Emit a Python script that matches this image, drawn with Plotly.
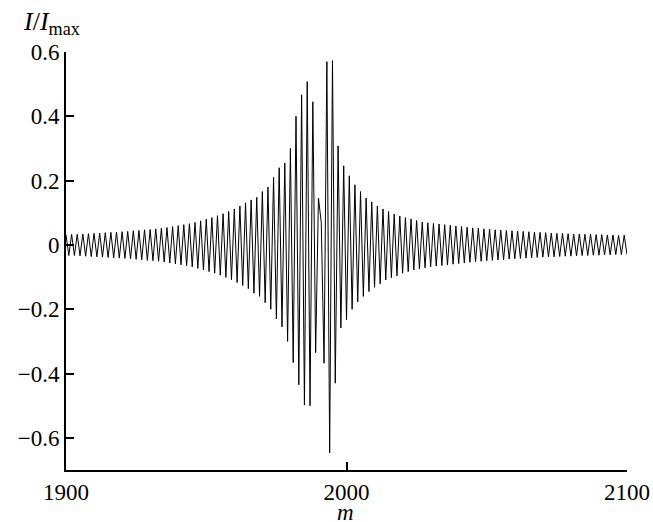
import plotly.graph_objects as go

# Sample index m (integers 1900..2100)
m_start, m_end = 1900, 2100
m_values = list(range(m_start, m_end + 1))

# Normalised intensity I/Imax, one value per m
intensity = [
    0.032, -0.033, 0.033, -0.033, 0.033, -0.034, 0.034, -0.035, 0.035, -0.036,   # 1900-1909
    0.036, -0.037, 0.037, -0.038, 0.038, -0.039, 0.039, -0.040, 0.040, -0.041,   # 1910-1919
    0.041, -0.042, 0.042, -0.043, 0.044, -0.045, 0.045, -0.046, 0.047, -0.048,   # 1920-1929
    0.048, -0.049, 0.050, -0.051, 0.052, -0.053, 0.054, -0.056, 0.057, -0.059,   # 1930-1939
    0.060, -0.062, 0.063, -0.065, 0.066, -0.068, 0.070, -0.073, 0.075, -0.078,   # 1940-1949
    0.080, -0.083, 0.085, -0.088, 0.091, -0.094, 0.097, -0.101, 0.104, -0.108,   # 1950-1959
    0.112, -0.117, 0.121, -0.126, 0.131, -0.136, 0.140, -0.150, 0.148, -0.160,   # 1960-1969
    0.166, -0.180, 0.180, -0.200, 0.210, -0.230, 0.240, -0.255, 0.255, -0.300,   # 1970-1979
    0.300, -0.366, 0.400, -0.435, 0.467, -0.498, 0.508, -0.500, 0.445, -0.335,   # 1980-1989
    0.146, 0.070, -0.368, 0.570, -0.647, 0.573, -0.430, 0.308, -0.258, 0.246,    # 1990-1999
    -0.233, 0.215, -0.200, 0.187, -0.177, 0.166, -0.160, 0.146, -0.145, 0.134,   # 2000-2009
    -0.132, 0.121, -0.121, 0.112, -0.109, 0.104, -0.102, 0.096, -0.096, 0.090,   # 2010-2019
    -0.088, 0.085, -0.083, 0.081, -0.078, 0.076, -0.075, 0.071, -0.071, 0.069,   # 2020-2029
    -0.068, 0.067, -0.066, 0.065, -0.064, 0.063, -0.062, 0.061, -0.060, 0.059,   # 2030-2039
    -0.058, 0.057, -0.056, 0.055, -0.054, 0.053, -0.052, 0.052, -0.051, 0.050,   # 2040-2049
    -0.049, 0.049, -0.048, 0.047, -0.047, 0.046, -0.046, 0.045, -0.044, 0.044,   # 2050-2059
    -0.043, 0.043, -0.042, 0.042, -0.041, 0.041, -0.040, 0.040, -0.039, 0.039,   # 2060-2069
    -0.038, 0.038, -0.037, 0.037, -0.037, 0.036, -0.036, 0.036, -0.035, 0.035,   # 2070-2079
    -0.035, 0.034, -0.034, 0.034, -0.033, 0.033, -0.033, 0.033, -0.032, 0.032,   # 2080-2089
    -0.032, 0.032, -0.031, 0.031, -0.031, 0.031, -0.030, 0.030, -0.030, 0.030,   # 2090-2099
    -0.030,                                                                      # 2100
]

x_ticks = [1900, 2000, 2100]
y_ticks = [0.6, 0.4, 0.2, 0.0, -0.2, -0.4, -0.6]
y_tick_labels = ["0.6", "0.4", "0.2", "0", "\u22120.2", "\u22120.4", "\u22120.6"]

FONT = "Liberation Serif"
FS = 23

fig = go.Figure()
fig.add_trace(go.Scatter(
    x=m_values, y=intensity, mode="lines",
    line=dict(color="black", width=1),
    hoverinfo="skip", showlegend=False,
))

fig.update_layout(
    width=653, height=522,
    margin=dict(l=66, r=26, t=52, b=52, autoexpand=False),
    paper_bgcolor="white", plot_bgcolor="white",
    font=dict(family=FONT, size=FS, color="black"),
    xaxis=dict(
        range=[1900, 2100], tickvals=x_ticks,
        ticks="inside", ticklen=8, tickwidth=2, tickcolor="black",
        showline=True, linecolor="black", linewidth=2,
        showgrid=False, zeroline=False, mirror=False,
        automargin=False, ticklabelstandoff=0,
        tickfont=dict(family=FONT, size=FS, color="black"),
    ),
    yaxis=dict(
        range=[-0.7, 0.6], tickvals=y_ticks, ticktext=y_tick_labels,
        ticks="inside", ticklen=8, tickwidth=2, tickcolor="black",
        showline=True, linecolor="black", linewidth=2,
        showgrid=False, zeroline=False, mirror=False,
        automargin=False, ticklabelstandoff=0,
        tickfont=dict(family=FONT, size=FS, color="black"),
    ),
    annotations=[
        dict(text="<i>I</i>/<i>I</i><sub>max</sub>", xref="paper", yref="paper",
             x=-0.08, y=1.07, xanchor="left", yanchor="middle",
             showarrow=False, font=dict(family=FONT, size=26, color="black")),
        dict(text="<i>m</i>", xref="paper", yref="paper",
             x=0.498, y=-0.102, xanchor="center", yanchor="middle",
             showarrow=False, font=dict(family=FONT, size=FS, color="black")),
    ],
)

fig.write_html(
    "out.html",
    config={"displayModeBar": False, "staticPlot": True},
    post_script="document.body.style.margin='0';document.body.style.padding='0';",
)
